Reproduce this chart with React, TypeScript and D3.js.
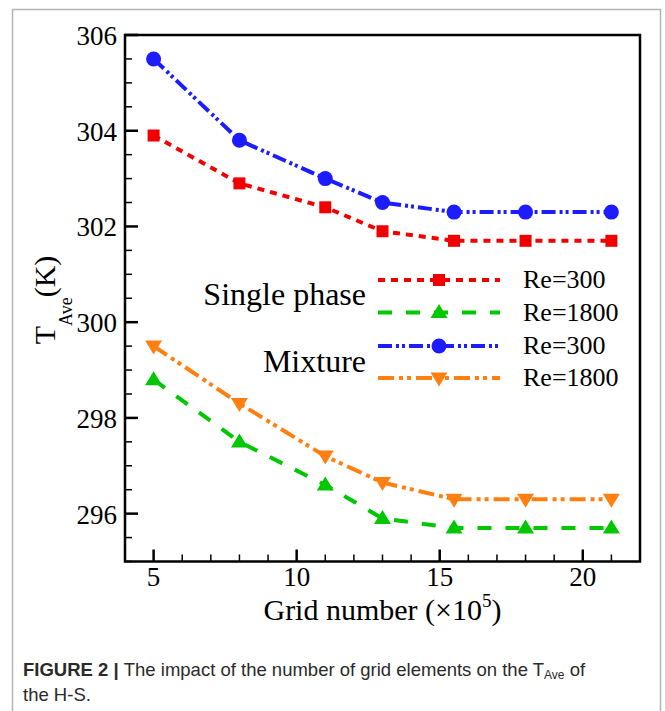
import React from 'react';
import * as d3 from 'd3';

// ---- data ----
const gridNumbers = [5, 8, 11, 13, 15.5, 18, 21];
const singleRe300 = [303.9, 302.9, 302.4, 301.9, 301.7, 301.7, 301.7];
const singleRe1800 = [298.8, 297.5, 296.6, 295.9, 295.7, 295.7, 295.7];
const mixtureRe300 = [305.5, 303.8, 303.0, 302.5, 302.3, 302.3, 302.3];
const mixtureRe1800 = [299.5, 298.3, 297.2, 296.65, 296.3, 296.3, 296.3];
const xTickLabels = [5, 10, 15, 20];
const yTickLabels = [296, 298, 300, 302, 304, 306];
const legendLabels = ['Re=300', 'Re=1800', 'Re=300', 'Re=1800'];
const groupLabels = ['Single phase', 'Mixture'];

type Marker = 'square' | 'triUp' | 'circle' | 'triDown';
const series: { values: number[]; color: string; dash: string; marker: Marker }[] = [
  { values: singleRe300, color: '#f20000', dash: '7 6', marker: 'square' },
  { values: singleRe1800, color: '#00c800', dash: '14 14', marker: 'triUp' },
  { values: mixtureRe300, color: '#1c1cff', dash: '14 4 3 3 3 4', marker: 'circle' },
  { values: mixtureRe1800, color: '#ff7f11', dash: '16 5 4 4 4 5', marker: 'triDown' },
];

const W = 665;
const H = 711;
const left = 125, right = 640, top = 35, bottom = 561.5;

const x = d3.scaleLinear().domain([4, 22]).range([left, right]);
const y = d3.scaleLinear().domain([295, 306]).range([bottom, top]);

function MarkerShape({ type, cx, cy, color }: { type: Marker; cx: number; cy: number; color: string }) {
  if (type === 'square') return <rect x={cx - 6} y={cy - 6} width={12} height={12} fill={color} />;
  if (type === 'circle') return <circle cx={cx} cy={cy} r={7.5} fill={color} />;
  const w = 8.5, h = 14;
  const pts =
    type === 'triUp'
      ? [[cx, cy - h * 0.6], [cx - w, cy + h * 0.4], [cx + w, cy + h * 0.4]]
      : [[cx, cy + h * 0.6], [cx - w, cy - h * 0.4], [cx + w, cy - h * 0.4]];
  return <polygon points={pts.map((p) => p.join(',')).join(' ')} fill={color} />;
}

export default function App() {
  const line = d3
    .line<number>()
    .x((_, i) => x(gridNumbers[i]))
    .y((d) => y(d));

  const yMinor = d3.range(295, 306.001, 0.5);
  const xMinor = d3.range(4, 22.001, 1);
  const serif = '"Liberation Serif", "Times New Roman", serif';
  const sans = '"Liberation Sans", Arial, sans-serif';

  const legendRows = [280, 312.5, 346, 378];
  const lx0 = 378, lx1 = 500, lmx = 439;

  return (
    <svg
      width={W}
      height={H}
      style={{ position: 'absolute', left: 0, top: 0, display: 'block', background: '#fff' }}
    >
      {/* outer frame */}
      <path d={`M12.5,${H + 2} V9.5 H660.5 V${H + 2}`} fill="none" stroke="#b4b4b4" strokeWidth={1.5} />

      {/* series lines */}
      {series.map((s, k) => (
        <path
          key={'l' + k}
          d={line(s.values) || ''}
          fill="none"
          stroke={s.color}
          strokeWidth={4}
          strokeDasharray={s.dash}
        />
      ))}
      {series.map((s, k) =>
        s.values.map((v, i) => (
          <MarkerShape key={'m' + k + '-' + i} type={s.marker} cx={x(gridNumbers[i])} cy={y(v)} color={s.color} />
        ))
      )}

      {/* axes box */}
      <rect x={left} y={top} width={right - left} height={bottom - top} fill="none" stroke="#000" strokeWidth={2.5} />

      {/* y ticks */}
      {yMinor.map((v) => {
        const major = Math.abs(v - Math.round(v)) < 1e-6 && Math.round(v) % 2 === 0;
        return (
          <line
            key={'yt' + v}
            x1={left}
            x2={left + (major ? 13 : 7)}
            y1={y(v)}
            y2={y(v)}
            stroke="#000"
            strokeWidth={major ? 2.5 : 1.5}
          />
        );
      })}
      {yTickLabels.map((v) => (
        <text key={'yl' + v} x={117} y={y(v) + 10} textAnchor="end" fontFamily={serif} fontSize={27} fill="#000">
          {v}
        </text>
      ))}

      {/* x ticks */}
      {xMinor.map((v) => {
        const major = v % 5 === 0;
        return (
          <line
            key={'xt' + v}
            x1={x(v)}
            x2={x(v)}
            y1={bottom}
            y2={bottom - (major ? 12 : 7)}
            stroke="#000"
            strokeWidth={major ? 2.5 : 1.5}
          />
        );
      })}
      {xTickLabels.map((v) => (
        <text key={'xl' + v} x={x(v)} y={586} textAnchor="middle" fontFamily={serif} fontSize={27} fill="#000">
          {v}
        </text>
      ))}

      {/* axis titles */}
      <text x={(left + right) / 2} y={620} textAnchor="middle" fontFamily={serif} fontSize={30} fill="#000">
        Grid number (×10
        <tspan fontSize={19} dy={-13}>5</tspan>
        <tspan dy={13}>)</tspan>
      </text>
      <text transform="translate(55,300) rotate(-90)" textAnchor="middle" fontFamily={serif} fontSize={30} fill="#000">
        T<tspan fontSize={18} dy={17}>Ave</tspan>
        <tspan dy={-17}>(K)</tspan>
      </text>

      {/* legend */}
      <text x={366} y={305} textAnchor="end" fontFamily={serif} fontSize={32} fill="#000">
        {groupLabels[0]}
      </text>
      <text x={366} y={372} textAnchor="end" fontFamily={serif} fontSize={32} fill="#000">
        {groupLabels[1]}
      </text>
      {series.map((s, k) => (
        <g key={'lg' + k}>
          <line
            x1={lx0}
            x2={lx1}
            y1={legendRows[k]}
            y2={legendRows[k]}
            stroke={s.color}
            strokeWidth={4}
            strokeDasharray={s.dash}
          />
          <MarkerShape type={s.marker} cx={lmx} cy={legendRows[k]} color={s.color} />
          <text x={523} y={legendRows[k] + 8} fontFamily={serif} fontSize={26} fill="#000">
            {legendLabels[k]}
          </text>
        </g>
      ))}

      {/* caption */}
      <text x={23} y={676} fontFamily={sans} fontSize={18.5} fill="#2a2a2a">
        <tspan fontWeight="bold">FIGURE 2 | </tspan>
        <tspan>The impact of the number of grid elements on the T</tspan>
        <tspan fontSize={12} dy={3}>Ave</tspan>
        <tspan dy={-3}> of</tspan>
      </text>
      <text x={23} y={701} fontFamily={sans} fontSize={18.5} fill="#2a2a2a">
        the H-S.
      </text>
    </svg>
  );
}
